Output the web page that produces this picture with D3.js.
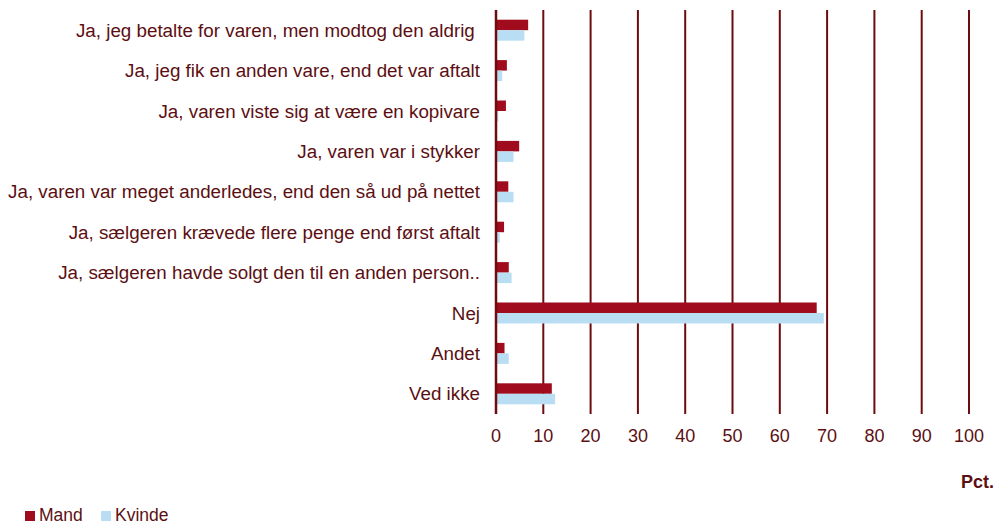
<!DOCTYPE html>
<meta charset="utf-8">
<title>Snyd ved køb på nettet</title>
<style>
  body { margin: 0; background: #fff; }
  svg text { font-family: "Liberation Sans", Arial, sans-serif; fill: #5c0f12; }
  .grid line { stroke: #6d0b0e; stroke-width: 2px; }
</style>
<body>
<script src="https://cdn.jsdelivr.net/npm/d3@7"></script>
<script>

var categories = [
  "Ja, jeg betalte for varen, men modtog den aldrig ",
  "Ja, jeg fik en anden vare, end det var aftalt",
  "Ja, varen viste sig at være en kopivare",
  "Ja, varen var i stykker",
  "Ja, varen var meget anderledes, end den så ud på nettet",
  "Ja, sælgeren krævede flere penge end først aftalt",
  "Ja, sælgeren havde solgt den til en anden person..",
  "Nej",
  "Andet",
  "Ved ikke"
];
var mand   = [6.8, 2.3, 2.1, 4.9, 2.6, 1.7, 2.7, 67.8, 1.8, 11.8];
var kvinde = [6.0, 1.3, 0.5, 3.7, 3.7, 0.8, 3.3, 69.3, 2.7, 12.5];
var series = ["Mand", "Kvinde"];
var colors = ["#a00c1e", "#b9def3"];
var xTicks = [0, 10, 20, 30, 40, 50, 60, 70, 80, 90, 100];

var width = 995, height = 524;
var plotLeft = 496, plotRight = 969, plotTop = 10, plotBottom = 414;
var fontSize = 18.8;

var svg = d3.select("body").append("svg")
  .attr("width", width)
  .attr("height", height);

var x = d3.scaleLinear().domain([0, 100]).range([plotLeft, plotRight]);
var y = d3.scaleBand().domain(categories).range([plotTop, plotBottom]);
var inner = d3.scaleBand().domain(series).range([0, 21]);

// gridlines
svg.append("g").attr("class", "grid")
  .selectAll("line").data(xTicks.slice(1)).enter().append("line")
  .attr("x1", function(d) { return x(d); })
  .attr("x2", function(d) { return x(d); })
  .attr("y1", plotTop)
  .attr("y2", plotBottom);

// bars
var rows = categories.map(function(c, i) {
  return { cat: c, vals: [mand[i], kvinde[i]] };
});

var g = svg.selectAll(".row").data(rows).enter().append("g")
  .attr("class", "row")
  .attr("transform", function(d) {
    return "translate(0," + (y(d.cat) + (y.bandwidth() - 21) / 2) + ")";
  });

g.selectAll("rect").data(function(d) {
    return d.vals.map(function(v, j) { return { s: series[j], v: v, c: colors[j] }; });
  }).enter().append("rect")
  .attr("x", x(0))
  .attr("y", function(d) { return inner(d.s); })
  .attr("width", function(d) { return x(d.v) - x(0); })
  .attr("height", inner.bandwidth())
  .attr("fill", function(d) { return d.c; });

// zero axis line
svg.append("line")
  .attr("x1", x(0)).attr("x2", x(0))
  .attr("y1", plotTop).attr("y2", plotBottom)
  .attr("stroke", "#6d0b0e").attr("stroke-width", 2.5);

// category labels
svg.selectAll(".cat").data(categories).enter().append("text")
  .attr("class", "cat")
  .attr("x", 480)
  .attr("y", function(d) { return y(d) + y.bandwidth() / 2; })
  .attr("dy", "0.35em")
  .attr("text-anchor", "end")
  .style("white-space", "pre")
  .attr("font-size", fontSize)
  .text(function(d) { return d; });

// x tick labels
svg.selectAll(".tick-label").data(xTicks).enter().append("text")
  .attr("class", "tick-label")
  .attr("x", function(d) { return x(d); })
  .attr("y", 442)
  .attr("text-anchor", "middle")
  .attr("font-size", 18)
  .text(function(d) { return d; });

svg.append("text")
  .attr("x", 994).attr("y", 488)
  .attr("text-anchor", "end")
  .attr("font-size", 18)
  .attr("font-weight", "bold")
  .text("Pct.");

// legend
var leg = svg.selectAll(".legend").data(series).enter().append("g")
  .attr("class", "legend")
  .attr("transform", function(d, i) { return "translate(" + (25 + i * 76) + ",511)"; });

leg.append("rect")
  .attr("width", 10).attr("height", 10)
  .attr("fill", function(d, i) { return colors[i]; });

leg.append("text")
  .attr("x", 14).attr("y", 10)
  .attr("font-size", 17.5)
  .text(function(d) { return d; });

</script>
</body>
